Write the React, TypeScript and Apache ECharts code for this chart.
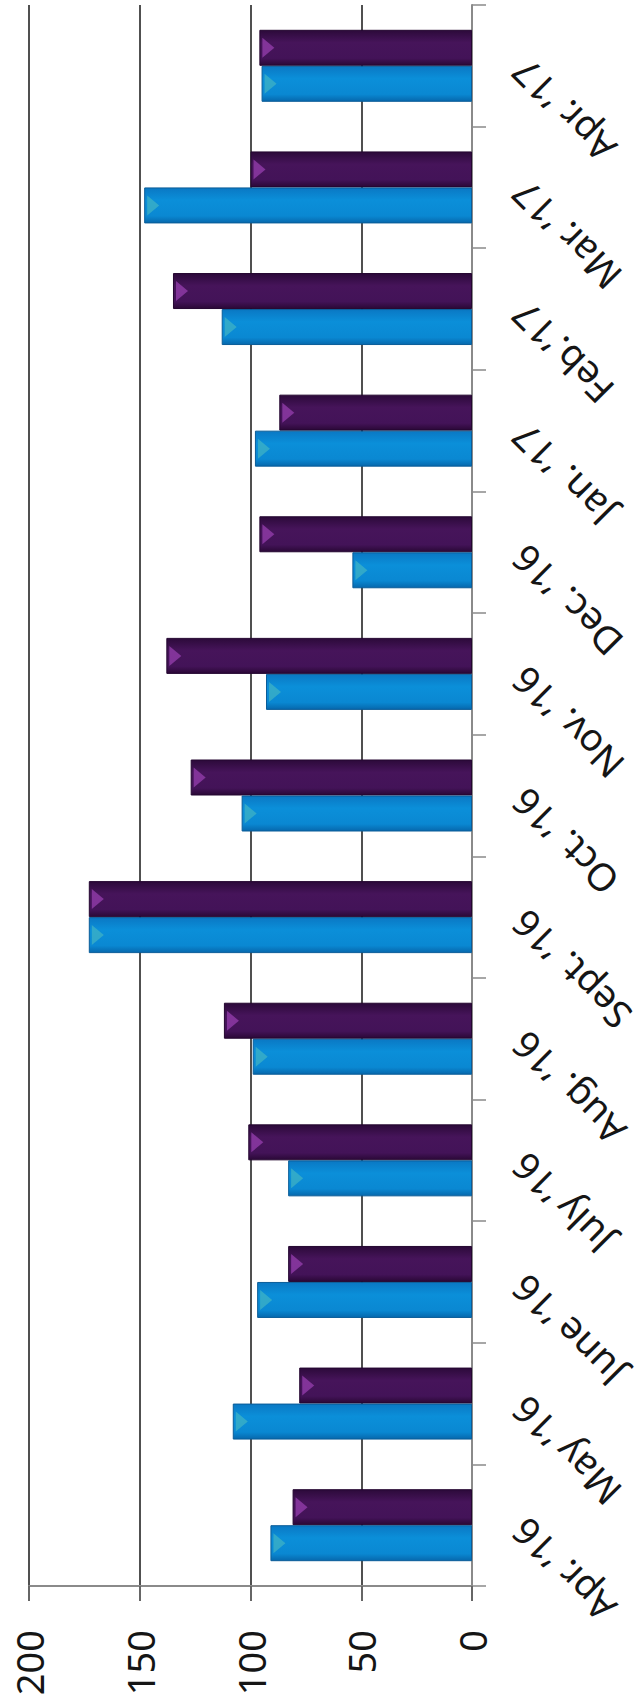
import React, { useEffect, useRef } from "react";
import * as echarts from "echarts";

const categories = [
  "Apr. ’16", "May ’16", "June ’16", "July ’16", "Aug. ’16", "Sept. ’16", "Oct. ’16",
  "Nov. ’16", "Dec. ’16", "Jan. ’17", "Feb.’17", "Mar. ’17", "Apr. ’17",
];
const blueValues = [91, 108, 97, 83, 99, 173, 104, 93, 54, 98, 113, 148, 95];
const purpleValues = [81, 78, 83, 101, 112, 173, 127, 138, 96, 87, 135, 100, 96];
const valueTicks = [0, 50, 100, 150, 200];

export default function App() {
  const ref = useRef<HTMLDivElement>(null);
  useEffect(() => {
    if (!ref.current) return;
    const chart = echarts.init(ref.current, undefined, { renderer: "svg" });
    const font = "'Noto Sans', 'DejaVu Sans', sans-serif";
    const blueGrad = new echarts.graphic.LinearGradient(0, 0, 0, 1, [
      { offset: 0, color: "#0a78c4" },
      { offset: 0.35, color: "#0b8fd9" },
      { offset: 0.8, color: "#0a88d2" },
      { offset: 1, color: "#0668ad" },
    ]);
    const purpleGrad = new echarts.graphic.LinearGradient(0, 0, 0, 1, [
      { offset: 0, color: "#2c0a3a" },
      { offset: 0.35, color: "#46145a" },
      { offset: 0.8, color: "#431358" },
      { offset: 1, color: "#2a0836" },
    ]);
    chart.setOption({
      animation: false,
      backgroundColor: "#ffffff",
      grid: { left: 29, right: 172, top: 5, bottom: 121, containLabel: false },
      xAxis: {
        type: "value",
        min: valueTicks[0],
        max: valueTicks[valueTicks.length - 1],
        interval: 50,
        inverse: true,
        position: "bottom",
        axisLine: { show: true, onZero: false, lineStyle: { color: "#8a8a8a", width: 2 } },
        axisTick: { show: true, length: 15, lineStyle: { color: "#666", width: 2 } },
        axisLabel: {
          rotate: 90,
          margin: 44,
          fontSize: 38,
          color: "#151515",
          fontFamily: font,
        },
        splitLine: { show: true, lineStyle: { color: "#505050", width: 2 } },
      },
      yAxis: {
        type: "category",
        position: "right",
        data: categories,
        axisLine: { show: true, lineStyle: { color: "#8a8a8a", width: 2 } },
        axisTick: { show: true, length: 14, lineStyle: { color: "#8a8a8a", width: 1.5 } },
        axisLabel: {
          rotate: 135,
          margin: 46,
          fontSize: 38,
          color: "#151515",
          fontFamily: font,
        },
        splitLine: { show: false },
      },
      series: [
        {
          name: "Purple",
          type: "bar",
          data: purpleValues,
          barWidth: 36,
          barGap: "0%",
          itemStyle: { color: purpleGrad, borderColor: "#240630", borderWidth: 1 },
          z: 2,
        },
        {
          name: "Blue",
          type: "bar",
          data: blueValues,
          barWidth: 36,
          barGap: "0%",
          itemStyle: { color: blueGrad, borderColor: "#0a5c98", borderWidth: 1 },
          z: 2,
        },
        {
          name: "PurpleEnd",
          type: "scatter",
          data: purpleValues,
          symbol: "triangle",
          symbolSize: [20, 12],
          symbolRotate: -90,
          symbolOffset: [9, -18],
          itemStyle: { color: "rgba(165,70,190,0.8)" },
          silent: true,
          z: 3,
        },
        {
          name: "BlueEnd",
          type: "scatter",
          data: blueValues,
          symbol: "triangle",
          symbolSize: [20, 12],
          symbolRotate: -90,
          symbolOffset: [9, 18],
          itemStyle: { color: "rgba(80,190,190,0.7)" },
          silent: true,
          z: 3,
        },
      ],
    });
    return () => chart.dispose();
  }, []);
  return (
    <div
      ref={ref}
      style={{ position: "absolute", left: 0, top: 0, width: 644, height: 1707 }}
    />
  );
}
